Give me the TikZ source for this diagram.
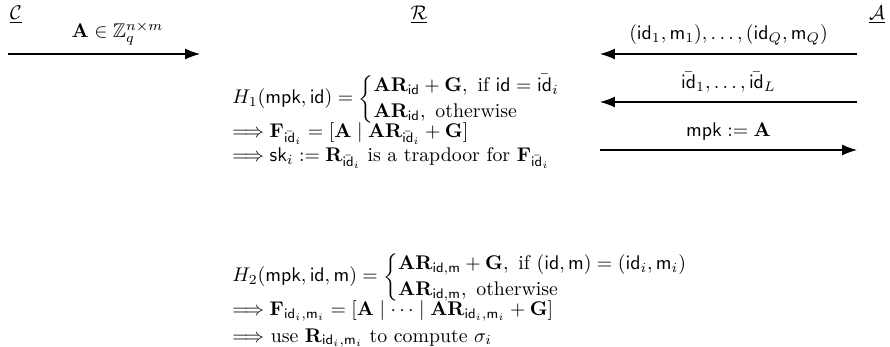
\documentclass[tikz,border=0pt]{standalone}
\usepackage{amsmath,amssymb}
\usetikzlibrary{arrows.meta,positioning}

\newcommand{\idbar}{\bar{\mathsf{id}}}
\newcommand{\tightcases}[1]{\left\{\def\arraystretch{1.1}\begin{array}{@{}l@{}}#1\end{array}\right.}

\begin{document}
\begin{tikzpicture}[>={Latex[length=7.5pt,width=5.5pt]},
  msg/.style={->,semithick},
  party/.style={inner sep=1pt},
  eqline/.style={anchor=base west}]
  \useasboundingbox (0,0) rectangle (15.8,6.16);
  % parties
  \node[party] (chal) at (0.284,5.894) {\underline{$\mathcal{C}$}};
  \node[party] (red) at (7.439,5.894) {\underline{$\mathcal{R}$}};
  \node[party] (adv) at (15.569,5.894) {\underline{$\mathcal{A}$}};
  % messages
  \coordinate (m1s) at (0.142,5.201);
  \coordinate (m1e) at (3.551,5.201);
  \coordinate (m2s) at (15.214,5.201);
  \coordinate (m2e) at (10.652,5.201);
  \coordinate (m3s) at (15.214,4.349);
  \coordinate (m3e) at (10.652,4.349);
  \coordinate (m4s) at (10.652,3.497);
  \coordinate (m4e) at (15.214,3.497);
  \draw[msg] (m1s) -- node[above=1pt,pos=0.57] (lmat)
    {$\mathbf{A}\in\mathbb{Z}_q^{n\times m}$} (m1e);
  \draw[msg] (m2s) -- node[above=1pt] (lsig)
    {$(\mathsf{id}_1,\mathsf{m}_1),\ldots,(\mathsf{id}_Q,\mathsf{m}_Q)$} (m2e);
  \draw[msg] (m3s) -- node[above=1pt] (lids)
    {$\idbar_1,\ldots,\idbar_L$} (m3e);
  \draw[msg] (m4s) -- node[above=1pt] (lmpk)
    {$\mathsf{mpk}:=\mathbf{A}$} (m4e);
  % programming H1
  \node[eqline] (hone) at (4.0,4.314) {%
    $H_1(\mathsf{mpk},\mathsf{id})=\tightcases{
      \mathbf{A}\mathbf{R}_{\mathsf{id}}+\mathbf{G},\ \text{if } \mathsf{id}=\idbar_i\\
      \mathbf{A}\mathbf{R}_{\mathsf{id}},\ \text{otherwise}}$};
  \node[eqline] (honef) at (4.0,3.711) {%
    $\Longrightarrow \mathbf{F}_{\idbar_i}=[\mathbf{A}\mid\mathbf{A}\mathbf{R}_{\idbar_i}+\mathbf{G}]$};
  \node[eqline] (honesk) at (4.0,3.284) {%
    $\Longrightarrow \mathsf{sk}_i:=\mathbf{R}_{\idbar_i}$ is a trapdoor for $\mathbf{F}_{\idbar_i}$};
  % programming H2
  \node[eqline] (htwo) at (4.0,1.154) {%
    $H_2(\mathsf{mpk},\mathsf{id},\mathsf{m})=\tightcases{
      \mathbf{A}\mathbf{R}_{\mathsf{id},\mathsf{m}}+\mathbf{G},\ \text{if } (\mathsf{id},\mathsf{m})=(\mathsf{id}_i,\mathsf{m}_i)\\
      \mathbf{A}\mathbf{R}_{\mathsf{id},\mathsf{m}},\ \text{otherwise}}$};
  \node[eqline] (htwof) at (4.0,0.550) {%
    $\Longrightarrow \mathbf{F}_{\mathsf{id}_i,\mathsf{m}_i}=[\mathbf{A}\mid\cdots\mid\mathbf{A}\mathbf{R}_{\mathsf{id}_i,\mathsf{m}_i}+\mathbf{G}]$};
  \node[eqline] (htwouse) at (4.0,0.088) {%
    $\Longrightarrow$ use $\mathbf{R}_{\mathsf{id}_i,\mathsf{m}_i}$ to compute $\sigma_i$};
\end{tikzpicture}
\end{document}
